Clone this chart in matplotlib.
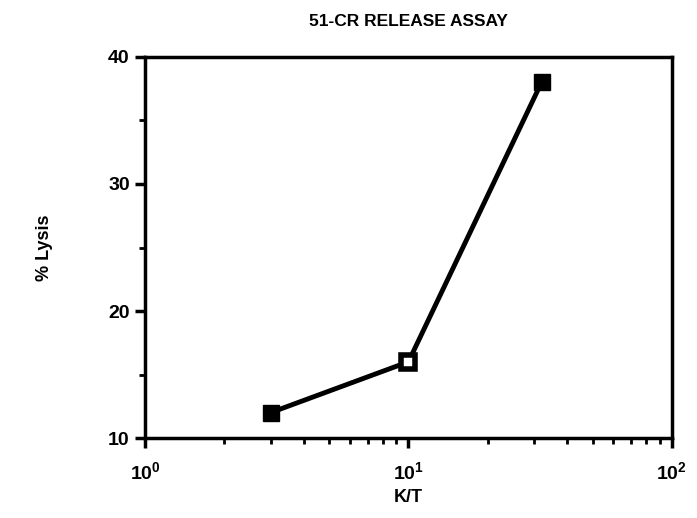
import numpy as np
from matplotlib import pyplot as plt
from matplotlib.ticker import MultipleLocator, LogLocator, NullFormatter

# data
kt_ratio = [3, 10, 32]
lysis = [12, 16, 38]

plt.rcParams['font.family'] = ['Liberation Sans', 'DejaVu Sans']
plt.rcParams['font.weight'] = 'bold'

fig = plt.figure(figsize=(6.97, 5.18), dpi=100)
ax = fig.add_axes([0.208, 0.1544, 0.756, 0.7356])

ax.plot(kt_ratio, lysis, '-', color='black', lw=3.5, zorder=2)
ax.plot([kt_ratio[0], kt_ratio[2]], [lysis[0], lysis[2]], 's', color='black',
        ms=11, ls='none', zorder=3)
ax.plot(kt_ratio[1], lysis[1], 's', mfc='white', mec='black', mew=4,
        ms=10, ls='none', zorder=3)

ax.set_xscale('log')
ax.set_xlim(1, 100)
ax.set_ylim(10, 40)
ax.yaxis.set_major_locator(MultipleLocator(10))
ax.yaxis.set_minor_locator(MultipleLocator(5))
ax.xaxis.set_major_locator(LogLocator(base=10))
ax.xaxis.set_minor_locator(LogLocator(base=10, subs=np.arange(2, 10)))
ax.xaxis.set_minor_formatter(NullFormatter())

for s in ax.spines.values():
    s.set_linewidth(2.5)

ax.tick_params(which='major', direction='out', length=7, width=2.5, labelsize=14, pad=4)
ax.tick_params(axis='x', which='major', pad=10)
ax.tick_params(which='minor', direction='out', length=4, width=2)
ax.tick_params(axis='y', which='both', right=False)
ax.tick_params(axis='x', which='both', top=False)

ax.set_xlabel("K/T", fontsize=13, fontweight='bold', labelpad=4)
ax.set_ylabel("% Lysis", fontsize=13, fontweight='bold', labelpad=40)
ax.set_title("51-CR RELEASE ASSAY", fontsize=12.5, fontweight='bold', pad=22)

plt.savefig("out.png", dpi=100)
